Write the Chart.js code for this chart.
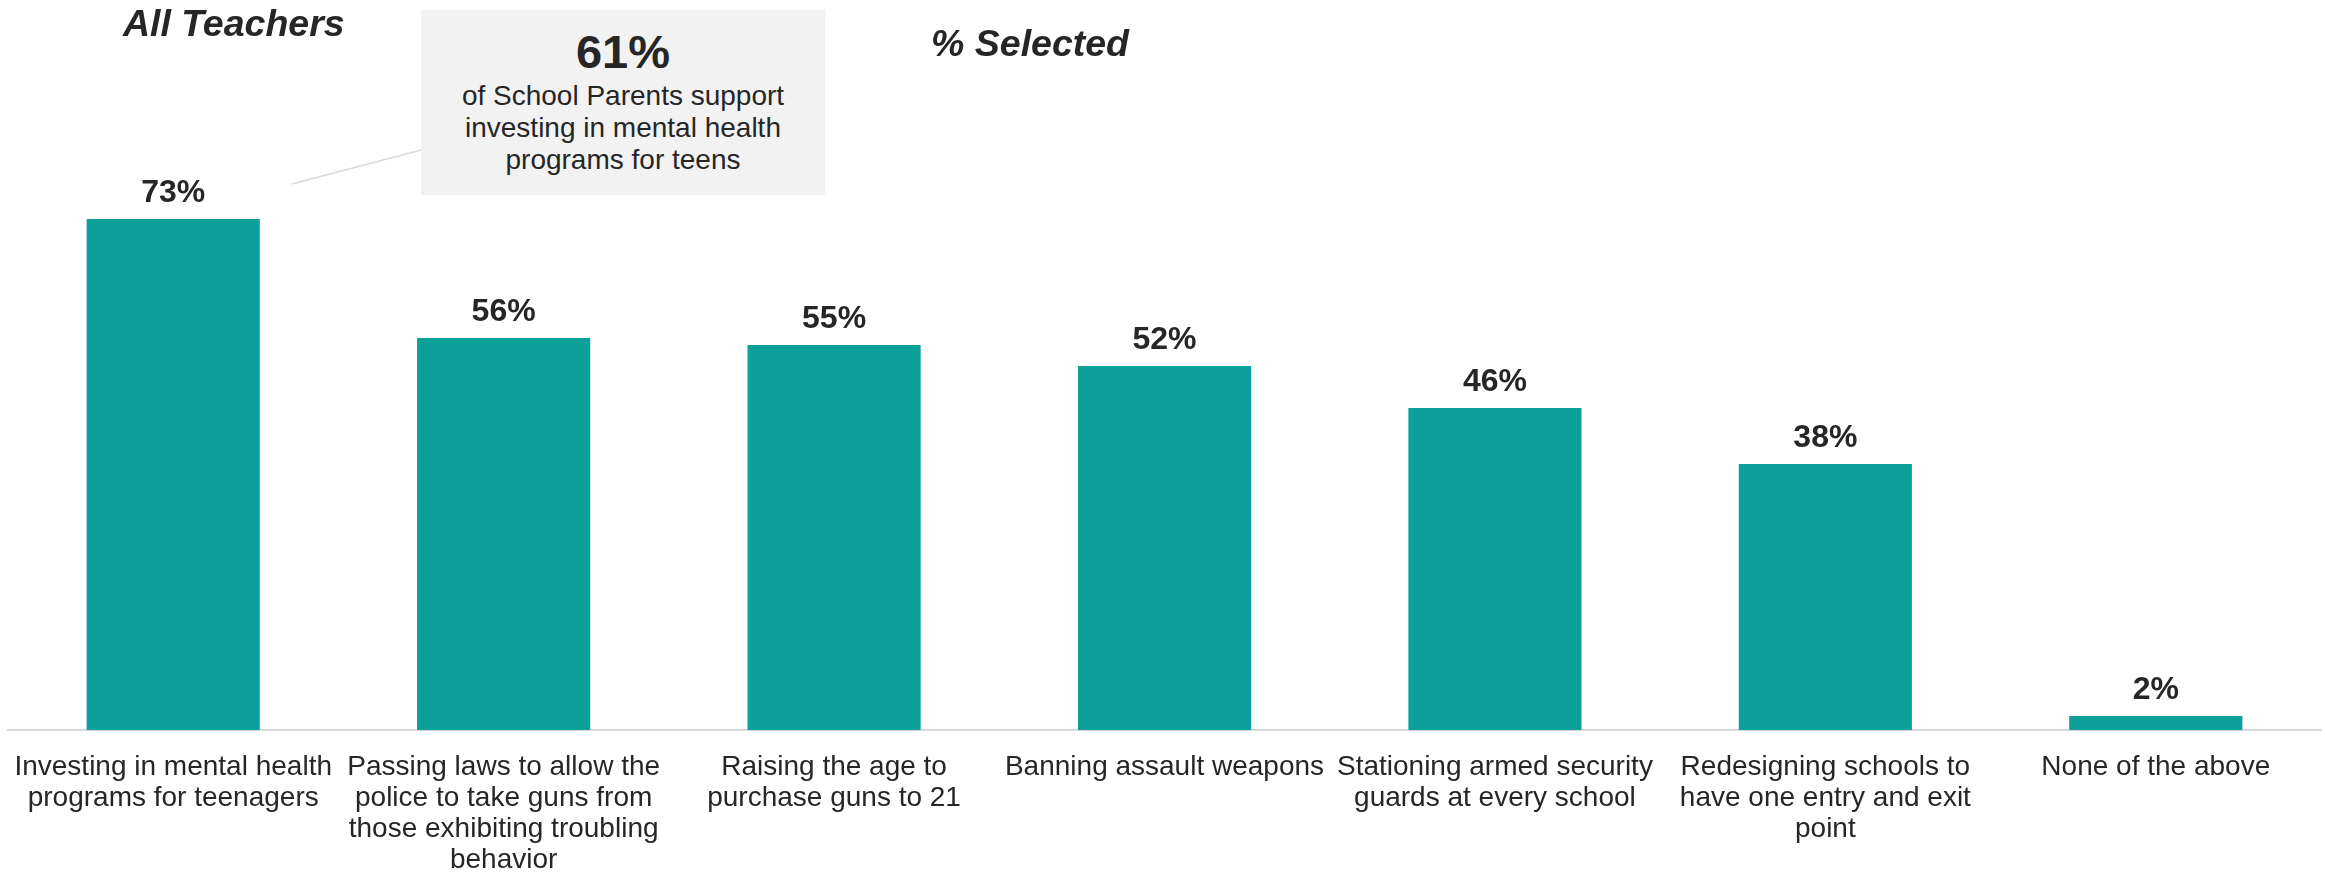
<!DOCTYPE html>
<html>
<head>
<meta charset="utf-8">
<script src="https://cdn.jsdelivr.net/npm/chart.js@4/dist/chart.umd.min.js"></script>
<style>
  html, body { margin: 0; padding: 0; background: #fff; }
  #wrap { position: relative; width: 2325px; height: 872px; font-family: "Liberation Sans", Arial, sans-serif; color: #262626; }
  #wrap canvas { position: absolute; left: 0; top: 0; }
  .title { position: absolute; font-size: 37.5px; line-height: 37px; font-weight: bold; font-style: italic; white-space: nowrap; }
  #callout { position: absolute; left: 421px; top: 10px; width: 404px; height: 185px; background: #F2F2F2; text-align: center; }
  #callout .big { padding-top: 16px; font-size: 47px; line-height: 52px; font-weight: bold; }
  #callout .txt { margin-top: 2px; font-size: 28px; line-height: 32px; }
  #connector { position: absolute; left: 0; top: 0; }
</style>
</head>
<body>
<div id="wrap">
  <canvas id="chart" width="2325" height="872"></canvas>
  <svg id="connector" width="2325" height="872">
    <line x1="292" y1="184" x2="421" y2="150" stroke="#D9D9D9" stroke-width="1.5"/>
  </svg>
  <div class="title" style="left:123px; top:5px;">All Teachers</div>
  <div class="title" style="left:931px; top:25px;">% Selected</div>
  <div id="callout">
    <div class="big">61%</div>
    <div class="txt">of School Parents support<br>investing in mental health<br>programs for teens</div>
  </div>
</div>
<script>
// Categorias (quebradas em linhas como no original)
const categories = [
    ["Investing in mental health", "programs for teenagers"],
    ["Passing laws to allow the", "police to take guns from", "those exhibiting troubling", "behavior"],
    ["Raising the age to", "purchase guns to 21"],
    ["Banning assault weapons"],
    ["Stationing armed security", "guards at every school"],
    ["Redesigning schools to", "have one entry and exit", "point"],
    ["None of the above"]
];
const selectedPct = [73, 56, 55, 52, 46, 38, 2];

const colors = {
    bar: '#0BA09A',
    text: '#262626',
    axis: '#D9D9D9',
};

// Rótulos de valor acima das barras
const valueLabels = {
    id: 'valueLabels',
    afterDatasetsDraw(chart) {
        const ctx = chart.ctx;
        const meta = chart.getDatasetMeta(0);
        ctx.save();
        ctx.font = 'bold 32px "Liberation Sans", Arial, sans-serif';
        ctx.fillStyle = colors.text;
        ctx.textAlign = 'center';
        ctx.textBaseline = 'alphabetic';
        meta.data.forEach(function (bar, i) {
            ctx.fillText(selectedPct[i] + '%', bar.x, bar.y - 17);
        });
        ctx.restore();
    }
};

const ctx = document.getElementById('chart').getContext('2d');
new Chart(ctx, {
    type: 'bar',
    data: {
        labels: categories,
        datasets: [{
            data: selectedPct,
            backgroundColor: colors.bar,
            borderWidth: 0,
            barPercentage: 0.524,
            categoryPercentage: 1.0,
        }],
    },
    options: {
        responsive: false,
        animation: false,
        layout: { padding: { left: 8, right: 4, top: 30, bottom: 0 } },
        plugins: {
            legend: { display: false },
            tooltip: { enabled: false },
        },
        scales: {
            x: {
                grid: { display: false, drawTicks: false },
                border: { display: true, color: colors.axis, width: 2 },
                ticks: {
                    color: colors.text,
                    padding: 22,
                    maxRotation: 0,
                    autoSkip: false,
                    font: { family: '"Liberation Sans", Arial, sans-serif', size: 28, lineHeight: 1.1 },
                },
                afterFit(scale) {
                    scale.height = 142;
                    scale.paddingLeft = 0;
                    scale.paddingRight = 0;
                },
            },
            y: {
                display: false,
                min: 0,
                max: 100,
            },
        },
    },
    plugins: [valueLabels],
});
</script>
</body>
</html>
